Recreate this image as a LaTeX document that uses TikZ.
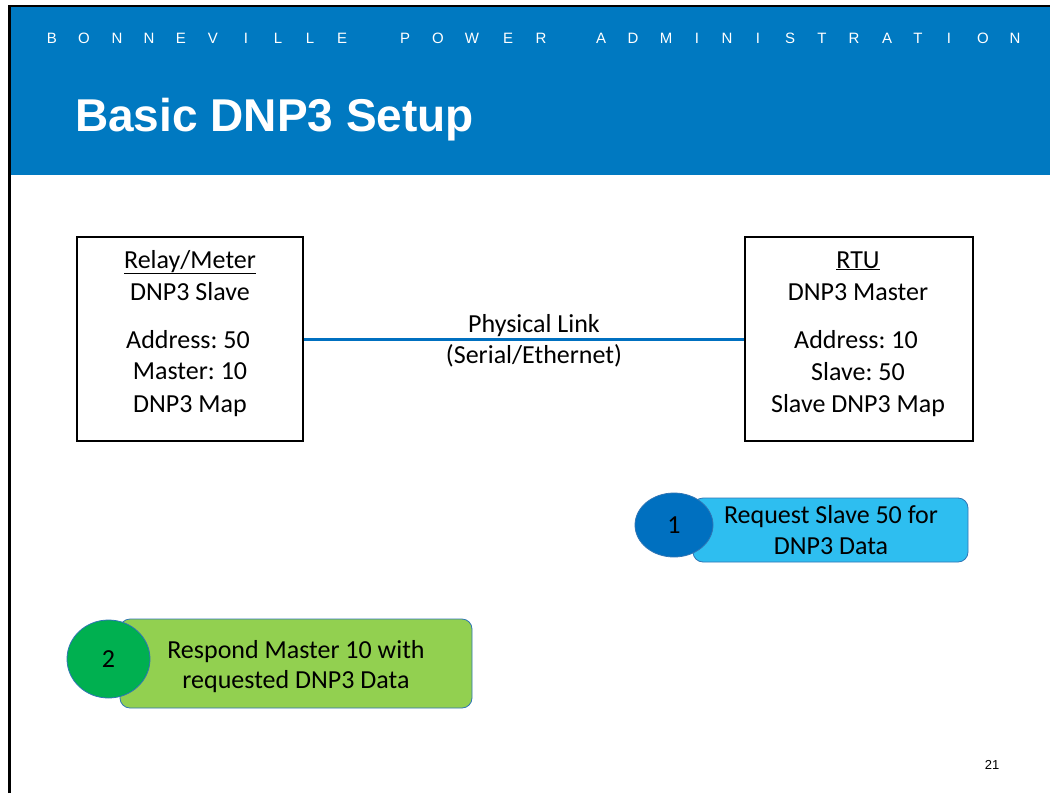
\documentclass[tikz,border=0pt]{standalone}
\usepackage{fontspec}
\setmainfont{Carlito}
\newfontfamily\arialfont{Liberation Sans}
\usetikzlibrary{shapes.geometric}
\frenchspacing
\definecolor{bpablue}{RGB}{0,121,193}
\definecolor{linkblue}{RGB}{0,112,192}
\definecolor{edgeblue}{RGB}{47,117,181}
\definecolor{reqfill}{RGB}{46,190,240}
\definecolor{reqdot}{RGB}{0,112,192}
\definecolor{respfill}{RGB}{146,208,80}
\definecolor{respdot}{RGB}{0,176,80}
\tikzset{
  hdr/.style={font=\arialfont\fontsize{15}{18}\selectfont, text=white, inner sep=0pt, anchor=base},
  devbox/.style={draw=black, line width=2pt, minimum width=226, minimum height=204, inner sep=0pt},
  txt/.style={font=\frenchspacing\fontsize{26}{30}\selectfont, inner sep=0pt, anchor=base},
  link/.style={draw=linkblue, line width=3pt},
  callout/.style={draw=edgeblue, line width=0.8pt, rounded corners=10pt},
  dot/.style={ellipse, draw=edgeblue, line width=0.8pt, inner sep=0pt},
}
\begin{document}
\begin{tikzpicture}[x=1pt,y=-1pt]
\useasboundingbox (0,0) rectangle (1050,793);
\fill[white] (0,0) rectangle (1050,793);
% header band and slide edge
\fill[bpablue] (10,7) rectangle (1050,175);
\draw[line width=2.5pt] (9.5,793) -- (9.5,6) -- (1050,6);
% spaced organisation name
\foreach \ch/\xx [count=\i] in {B/52,O/84,N/117,N/149,E/181,V/213,I/246,L/278,L/310,E/342,
  P/405,O/438,W/472,E/508,R/541,
  A/601,D/633,M/666,I/697,N/727,I/758,S/790,T/822,R/854,A/887,T/918,I/949,O/983,N/1015}
  \node[hdr] (hdr\i) at (\xx,43) {\ch};
\node[anchor=base west, inner sep=0pt, text=white,
  font=\arialfont\bfseries\fontsize{46}{50}\selectfont] (title) at (75,131) {Basic DNP3 Setup};
% devices
\node[devbox] (relay) at (190,339) {};
\node[devbox, minimum width=228] (rtu) at (858.5,339) {};
\node[txt] (r1) at (190,268) {\underline{Relay/Meter}};
\node[txt] (r2) at (190,300) {DNP3 Slave};
\node[txt] (r3) at (188,348) {Address: 50};
\node[txt] (r4) at (190,379) {Master: 10};
\node[txt] (r5) at (190,412) {DNP3 Map};
\node[txt] (t1) at (858,268) {\underline{RTU}};
\node[txt] (t2) at (858,300) {DNP3 Master};
\node[txt] (t3) at (856,348) {Address: 10};
\node[txt] (t4) at (858,380) {Slave: 50};
\node[txt] (t5) at (858,412) {Slave DNP3 Map};
% physical link
\draw[link] (relay) -- (rtu);
\node[txt] (lk1) at (534,332) {Physical Link};
\node[txt] (lk2) at (534,363) {(Serial/Ethernet)};
% step 1
\filldraw[callout, fill=reqfill] (693,498) rectangle (968,562);
\node[dot, fill=reqdot, minimum width=78, minimum height=64] (s1) at (674,525) {};
\node[txt] at (s1) [yshift=-8] {1};
\node[txt] (q1) at (831,523) {Request Slave 50 for};
\node[txt] (q2) at (831,554) {DNP3 Data};
% step 2
\filldraw[callout, fill=respfill] (120,619) rectangle (472,708);
\node[dot, fill=respdot, minimum width=83, minimum height=78] (s2) at (108.5,659) {};
\node[txt] at (s2) [yshift=-8] {2};
\node[txt] (p1) at (296,658) {Respond Master 10 with};
\node[txt] (p2) at (296,688) {requested DNP3 Data};
% slide number
\node[anchor=base, inner sep=0pt, font=\arialfont\fontsize{13}{15}\selectfont] (pnum) at (992,769) {21};
\end{tikzpicture}
\end{document}
